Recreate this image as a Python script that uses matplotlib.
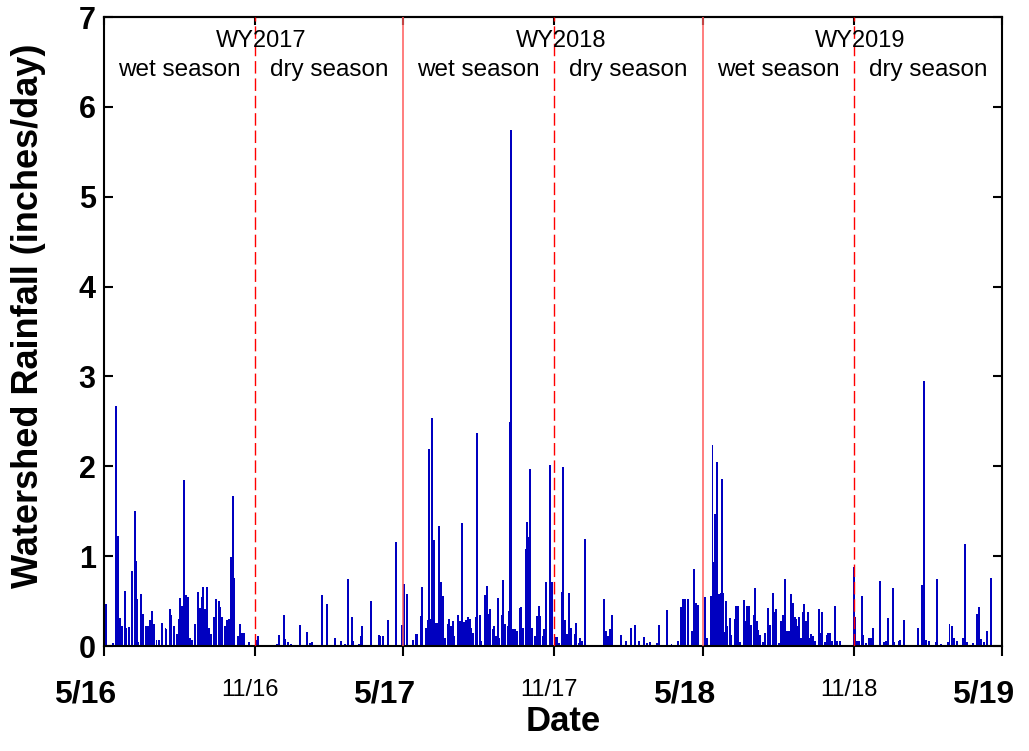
import numpy as np
import matplotlib
matplotlib.use("Agg")
import matplotlib.pyplot as plt
from matplotlib.transforms import ScaledTranslation

plt.rcParams['font.family'] = ['Liberation Sans', 'DejaVu Sans']

# dag räknat från 2016-05-01, regn i tum/dag
wy2017_dagar = [2, 11, 15, 17, 19, 22, 26, 27, 31, 34, 38, 39, 40, 42, 45, 47, 51, 54, 56, 59,
                61, 64, 67, 71, 75, 76, 80, 82, 85, 89, 91, 93, 95, 98, 100, 102, 105, 107, 111, 115,
                117, 119, 121, 123, 126, 128, 131, 134, 137, 140, 142, 144, 147, 150, 152, 155, 157, 159, 163, 166,
                168, 171, 177,
                185, 188, 211, 213, 219, 221, 224, 228, 239, 248, 251, 254, 266, 272, 282, 289, 294, 297, 302, 304,
                311, 313, 315, 325, 335, 337, 340, 346, 356, 363]
wy2017_regn = [0.47, 0.03, 2.67, 1.22, 0.31, 0.22, 0.61, 0.2, 0.21, 0.84, 1.5, 0.95, 0.52, 0.05, 0.58, 0.36, 0.22, 0.22, 0.29, 0.39,
               0.24, 0.07, 0.07, 0.26, 0.2, 0.19, 0.41, 0.35, 0.22, 0.13, 0.3, 0.53, 0.45, 1.85, 0.57, 0.55, 0.09, 0.07, 0.25, 0.6,
               0.42, 0.55, 0.66, 0.41, 0.66, 0.2, 0.13, 0.32, 0.52, 0.5, 0.43, 0.32, 0.22, 0.29, 0.3, 0.99, 1.67, 0.76, 0.11, 0.24,
               0.15, 0.14, 0.05,
               0.07, 0.11, 0.02, 0.12, 0.34, 0.08, 0.04, 0.02, 0.23, 0.16, 0.03, 0.04, 0.57, 0.47, 0.09, 0.06, 0.02, 0.75, 0.32, 0.06,
               0.02, 0.11, 0.22, 0.5, 0.12, 0.11, 0.11, 0.29, 1.16, 0.23]

wy2018_dagar = [366, 369, 377, 380, 382, 386, 388, 393, 395, 396, 398, 400, 402, 405, 407, 409, 411, 413, 416, 419,
                421, 423, 425, 427, 432, 434, 437, 439, 441, 444, 446, 448, 450, 453, 455, 458, 460, 465, 467, 469,
                471, 474, 476, 478, 480, 482, 485, 487, 489, 492, 494, 495, 496, 499, 501, 504, 507, 509, 511, 514,
                516, 518, 520, 522, 525, 528, 530, 532, 535, 537, 539, 544, 546,
                550, 552, 555, 558, 560, 562, 564, 567, 570, 574, 576, 579, 581, 583, 586, 610, 612, 615, 617, 620,
                630, 636, 643, 647, 652, 658, 662, 666, 674, 677, 686, 692, 700, 704, 706, 708, 712, 717, 720, 722, 724]
wy2018_regn = [0.69, 0.58, 0.07, 0.13, 0.13, 0.33, 0.66, 0.2, 0.29, 2.19, 0.3, 2.54, 1.18, 0.26, 0.26, 1.33, 0.71, 0.56, 0.09, 0.25,
               0.3, 0.22, 0.28, 0.11, 0.34, 0.28, 1.37, 0.27, 0.29, 0.32, 0.3, 0.2, 0.14, 0.32, 2.37, 0.35, 0.06, 0.57, 0.67, 0.36,
               0.41, 0.19, 0.22, 0.11, 0.53, 0.09, 0.35, 0.74, 0.24, 0.22, 0.39, 2.49, 5.74, 0.19, 0.19, 0.17, 0.42, 0.43, 0.2, 1.08,
               1.38, 1.21, 1.97, 0.2, 0.11, 0.33, 0.45, 0.33, 0.11, 0.19, 0.71, 2.01, 0.71,
               0.1, 0.1, 0.03, 0.6, 1.99, 0.29, 0.13, 0.59, 0.2, 0.13, 0.26, 0.03, 0.09, 0.06, 1.19, 0.52, 0.17, 0.11, 0.19, 0.35,
               0.12, 0.06, 0.2, 0.23, 0.06, 0.1, 0.03, 0.04, 0.03, 0.23, 0.4, 0.02, 0.06, 0.43, 0.52, 0.52, 0.52, 0.17, 0.86, 0.48, 0.46]

wy2019_dagar = [733, 735, 740, 742, 744, 745, 747, 748, 750, 752, 754, 755, 756, 758, 760, 763, 765, 769, 771, 773,
                775, 780, 782, 784, 787, 789, 792, 794, 796, 798, 800, 804, 806, 810, 812, 816, 818, 820, 823, 826,
                828, 830, 831, 833, 835, 838, 840, 842, 844, 846, 848, 850, 852, 854, 856, 858, 860, 862, 864, 867,
                872, 874, 876, 879, 881, 883, 885, 888, 891, 894, 897,
                914, 916, 918, 921, 924, 926, 929, 933, 935, 938, 946, 951, 954, 956, 962, 963, 969, 971, 976, 993,
                997, 1000, 1002, 1006, 1015, 1016, 1021, 1029, 1031, 1034, 1036, 1040, 1047, 1050, 1052, 1060, 1064, 1067, 1069, 1073,
                1077, 1081]
wy2019_regn = [0.54, 0.09, 0.56, 2.24, 0.93, 1.47, 0.58, 2.05, 0.58, 0.59, 1.86, 0.59, 0.16, 0.5, 0.22, 0.31, 0.12, 0.3, 0.44, 0.44,
               0.04, 0.51, 0.28, 0.44, 0.44, 0.23, 0.34, 0.64, 0.28, 0.18, 0.12, 0.04, 0.14, 0.42, 0.23, 0.59, 0.38, 0.41, 0.03, 0.28,
               0.35, 0.75, 0.72, 0.17, 0.17, 0.58, 0.48, 0.32, 0.3, 0.22, 0.32, 0.09, 0.38, 0.47, 0.28, 0.38, 0.09, 0.13, 0.11, 0.06,
               0.41, 0.15, 0.38, 0.04, 0.12, 0.14, 0.14, 0.06, 0.45, 0.06, 0.06,
               0.88, 0.32, 0.06, 0.06, 0.56, 0.12, 0.03, 0.09, 0.09, 0.2, 0.72, 0.04, 0.06, 0.31, 0.64, 0.04, 0.06, 0.07, 0.29, 0.2,
               0.68, 2.95, 0.07, 0.06, 0.04, 0.75, 0.02, 0.04, 0.25, 0.22, 0.09, 0.06, 0.09, 1.14, 0.04, 0.03, 0.36, 0.43, 0.08, 0.04,
               0.17, 0.76]

# axeln: 5/1 och 11/1 varje år
start = np.datetime64('2016-05-01')
maj_datum = ['2016-05-01', '2017-05-01', '2018-05-01', '2019-05-01']
nov_datum = ['2016-11-01', '2017-11-01', '2018-11-01']
maj_etiketter = ['5/16', '5/17', '5/18', '5/19']
nov_etiketter = ['11/16', '11/17', '11/18']
vattenår = ['WY2017', 'WY2018', 'WY2019']


def dag(d):
    return int((np.datetime64(d) - start) / np.timedelta64(1, 'D'))


maj_pos = [dag(d) for d in maj_datum]
nov_pos = [dag(d) for d in nov_datum]

dagar = wy2017_dagar + wy2018_dagar + wy2019_dagar
regn = wy2017_regn + wy2018_regn + wy2019_regn

fig = plt.figure(figsize=(10.29, 7.51), dpi=100)
ax = fig.add_axes([104 / 1029, 105 / 751, 898 / 1029, 629 / 751])

ax.bar(dagar, regn, width=2.4, color='#0000c0', linewidth=0, zorder=2)

# vattenårs- och säsongsgränser
for p in maj_pos[1:-1]:
    ax.axvline(p, color='#ff5a5a', lw=1.1, zorder=3)
for p in nov_pos:
    ax.axvline(p, color='#ff0000', lw=1.0, dashes=(9, 3.5), zorder=3)

for i in range(3):
    ax.text(nov_pos[i] + 8, 6.67, vattenår[i], ha='center', va='baseline', fontsize=17)
    våt_mitt = (maj_pos[i] + nov_pos[i]) / 2
    torr_mitt = (nov_pos[i] + maj_pos[i + 1]) / 2
    ax.text(våt_mitt, 6.34, 'wet season', ha='center', va='baseline', fontsize=17.5)
    ax.text(torr_mitt, 6.34, 'dry season', ha='center', va='baseline', fontsize=17.5)

ax.set_xlim(maj_pos[0], maj_pos[-1])
ax.set_ylim(0, 7)

ax.set_xticks(maj_pos)
ax.set_xticklabels(maj_etiketter, fontsize=23, fontweight='bold')
ax.set_xticks(nov_pos, minor=True)
ax.set_xticklabels(nov_etiketter, minor=True, fontsize=17)
ax.tick_params(axis='x', which='both', direction='out', length=7, width=1.5, pad=17)

# etiketterna sitter lite till vänster om sina streck i originalet
for lbl in ax.get_xticklabels():
    lbl.set_transform(lbl.get_transform() + ScaledTranslation(-0.19, 0, fig.dpi_scale_trans))
for lbl in ax.get_xticklabels(minor=True):
    lbl.set_transform(lbl.get_transform() + ScaledTranslation(-0.05, 0, fig.dpi_scale_trans))

ax.set_yticks(range(8))
ax.set_yticklabels([str(v) for v in range(8)], fontsize=22, fontweight='bold')
ax.tick_params(axis='y', direction='in', length=6.5, width=1.5, right=True, pad=6)

topp = ax.secondary_xaxis('top')
topp.set_xticks(maj_pos + nov_pos)
topp.tick_params(direction='in', length=6, width=1.5, labeltop=False)
topp.spines['top'].set_linewidth(1.5)

for s in ax.spines.values():
    s.set_linewidth(1.5)

ax.set_xlabel('Date', fontsize=25, fontweight='bold')
ax.xaxis.set_label_coords(0.511, -0.094)
ax.set_ylabel('Watershed Rainfall (inches/day)', fontsize=26, fontweight='bold', va='center')
ax.yaxis.set_label_coords(-0.084, 0.525)

fig.savefig('out.png', dpi=100)
